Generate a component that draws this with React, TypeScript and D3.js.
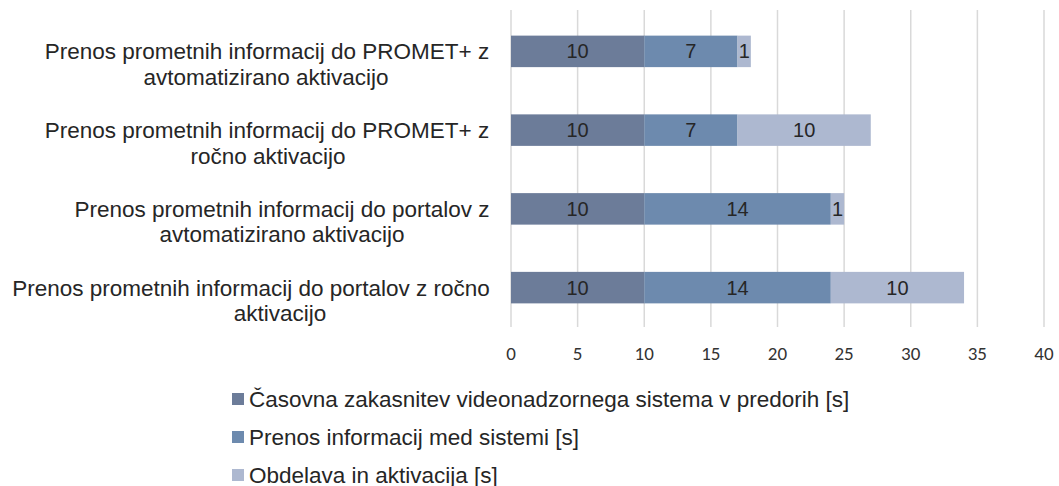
import React from "react";
import * as d3 from "d3";

const categories = [
  "Prenos prometnih informacij do PROMET+ z avtomatizirano aktivacijo",
  "Prenos prometnih informacij do PROMET+ z ročno aktivacijo",
  "Prenos prometnih informacij do portalov z avtomatizirano aktivacijo",
  "Prenos prometnih informacij do portalov z ročno aktivacijo",
];
const categoryLines = [
  ["Prenos prometnih informacij do PROMET+ z", "avtomatizirano aktivacijo"],
  ["Prenos prometnih informacij do PROMET+ z", "ročno aktivacijo"],
  ["Prenos prometnih informacij do portalov z", "avtomatizirano aktivacijo"],
  ["Prenos prometnih informacij do portalov z ročno", "aktivacijo"],
];
const seriesNames = [
  "Časovna zakasnitev videonadzornega sistema v predorih [s]",
  "Prenos informacij med sistemi [s]",
  "Obdelava in aktivacija [s]",
];
const videoDelay = [10, 10, 10, 10];
const transfer = [7, 7, 14, 14];
const processing = [1, 10, 1, 10];
const xTicks = [0, 5, 10, 15, 20, 25, 30, 35, 40];

const colors = ["#6c7c99", "#6d8aae", "#adb8d0"];
const lineCenters = [
  [267, 266],
  [267, 268],
  [282, 282],
  [251, 280],
];

export default function App() {
  const width = 1059;
  const height = 486;
  const x = d3.scaleLinear().domain([0, 40]).range([511, 1044]);
  const y = d3
    .scaleBand<string>()
    .domain(categories)
    .range([12, 327])
    .paddingInner(0.6)
    .paddingOuter(0.3);
  const series = [videoDelay, transfer, processing];
  const stackData = categories.map((c, i) => ({
    c,
    s0: videoDelay[i],
    s1: transfer[i],
    s2: processing[i],
  }));
  const stack = d3.stack<any>().keys(["s0", "s1", "s2"])(stackData);
  const labelFont = "'Liberation Sans', Arial, sans-serif";

  return (
    <svg
      width={width}
      height={height}
      style={{ position: "absolute", left: 0, top: 0, background: "#fff" }}
    >
      {xTicks.map((t) => (
        <g key={t}>
          <line x1={x(t)} x2={x(t)} y1={10} y2={327} stroke="#d9d9d9" strokeWidth={1.5} />
          <text
            x={x(t)}
            y={360}
            textAnchor="middle"
            fontFamily="Carlito, Lato, sans-serif"
            fontSize={19}
            fill="#333"
          >
            {t}
          </text>
        </g>
      ))}
      {stack.map((layer, si) => (
        <g key={si}>
          {layer.map((d, i) => {
            const x0 = x(d[0]);
            const x1 = x(d[1]);
            const yy = y(categories[i])!;
            const bw = y.bandwidth();
            return (
              <g key={i}>
                <rect x={x0} y={yy} width={x1 - x0} height={bw} fill={colors[si]} />
                <text
                  x={(x0 + x1) / 2}
                  y={yy + bw / 2 + 7}
                  textAnchor="middle"
                  fontFamily={labelFont}
                  fontSize={20}
                  fill="#262626"
                >
                  {series[si][i]}
                </text>
              </g>
            );
          })}
        </g>
      ))}
      {categoryLines.map((lines, i) => {
        const cy = y(categories[i])! + y.bandwidth() / 2;
        return (
          <g key={i}>
            {lines.map((ln, j) => (
              <text
                key={j}
                x={lineCenters[i][j]}
                y={cy + 8 + j * 25.5}
                textAnchor="middle"
                fontFamily={labelFont}
                fontSize={22.5}
                fill="#262626"
              >
                {ln}
              </text>
            ))}
          </g>
        );
      })}
      {seriesNames.map((n, i) => (
        <g key={i}>
          <rect x={232} y={393 + i * 38} width={12} height={12} fill={colors[i]} />
          <text
            x={249}
            y={407 + i * 38}
            fontFamily={labelFont}
            fontSize={22.5}
            fill="#262626"
          >
            {n}
          </text>
        </g>
      ))}
    </svg>
  );
}
